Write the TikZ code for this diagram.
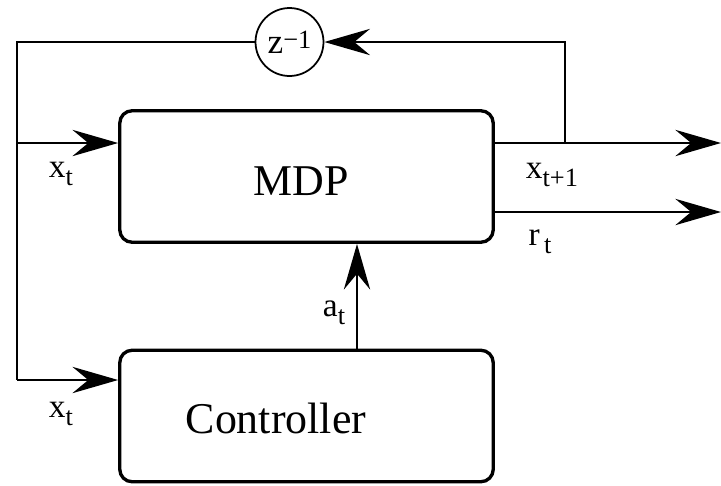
\documentclass[tikz,border=0pt]{standalone}
\usepackage{fontspec}
\setmainfont{Liberation Serif}
\usetikzlibrary{arrows.meta}
% lowered index for the signal names
\newcommand{\lowidx}[1]{\raisebox{-0.5ex}{\fontsize{15}{18}\selectfont #1}}

\begin{document}
\begin{tikzpicture}[x=0.02cm,y=-0.02cm,
% common options for the two blocks:
block/.style = {draw, line width=1.9pt, rounded corners=7pt,
            minimum width=7.47cm, minimum height=2.63cm, inner sep=0},
title/.style = {inner sep=0, font=\fontsize{25}{28}\selectfont},
% signal lines and their arrows:
sig/.style = {line width=1pt},
arr/.style = {sig, -{Stealth[length=26pt, width=15pt, inset=9pt]}},
% small labels on the lines:
lbl/.style = {inner sep=0, font=\fontsize{19}{22}\selectfont}]
\useasboundingbox (0,0) rectangle (721,485);
\node[block] (mdp) at (306.5,176.5) {};
\node[block] (ctrl) at (306.5,416) {};
\node[title] (mdptext) at (301.5,181) {MDP};
\node[title] (ctrltext) at (276,418) {Controller};
\node[circle, draw, sig, minimum size=1.36cm, inner sep=0,
      font=\fontsize{20}{24}\selectfont] (delay) at (289.5,42)
      {z\raisebox{3pt}{\fontsize{15}{18}\selectfont −1}};
\coordinate (xout) at (721,143);
\coordinate (rout) at (721,212);
\coordinate (tap) at (565,143);
\coordinate (corner) at (17,42);
\coordinate (xin) at (17,143);
\coordinate (cin) at (17,380);
\coordinate (act) at (357,300);
\draw[arr] (mdp.east |- xout) -- (xout);
\draw[arr] (mdp.east |- rout) -- (rout);
\draw[arr] (tap) |- (delay.east);
\draw[sig] (delay.west) -- (corner) -- (cin);
\draw[arr] (xin) -- (mdp.west |- xin);
\draw[arr] (cin) -- (ctrl.west |- cin);
\draw[arr] (ctrl.north -| act) -- (mdp.south -| act);
\node[lbl] (xlab1) at (61,174) {x\lowidx{t}};
\node[lbl] (xlab2) at (61,414) {x\lowidx{t}};
\node[lbl] (xlab3) at (552,175) {x\lowidx{t+1}};
\node[lbl] (rlab) at (540,242) {r\lowidx{\,t}};
\node[lbl] (alab) at (334,313) {a\lowidx{t}};
\end{tikzpicture}
\end{document}
